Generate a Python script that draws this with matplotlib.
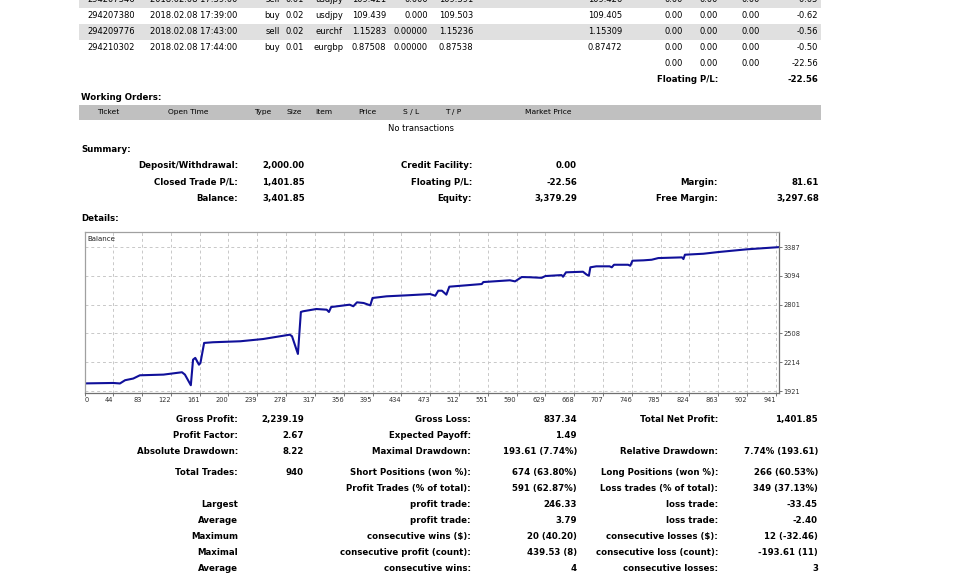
import matplotlib
matplotlib.use('Agg')
import matplotlib.pyplot as plt
from matplotlib.patches import Rectangle

plt.rcParams['font.family'] = 'DejaVu Sans'

# open positions (first row is cut by the top of the screenshot)
tickets = ['294207346', '294207380', '294209776', '294210302']
open_times = ['2018.02.08 17:39:00', '2018.02.08 17:39:00', '2018.02.08 17:43:00', '2018.02.08 17:44:00']
types = ['sell', 'buy', 'sell', 'buy']
sizes = ['0.01', '0.02', '0.02', '0.01']
items = ['usdjpy', 'usdjpy', 'eurchf', 'eurgbp']
prices = ['109.421', '109.439', '1.15283', '0.87508']
stop_loss = ['0.000', '0.000', '0.00000', '0.00000']
take_profit = ['109.391', '109.503', '1.15236', '0.87538']
market_prices = ['109.426', '109.405', '1.15309', '0.87472']
commissions = ['0.00', '0.00', '0.00', '0.00']
taxes = ['0.00', '0.00', '0.00', '0.00']
swaps = ['0.00', '0.00', '0.00', '0.00']
profits = ['-0.05', '-0.62', '-0.56', '-0.50']
totals = ['0.00', '0.00', '0.00', '-22.56']
floating_pl = '-22.56'

order_headers = ['Ticket', 'Open Time', 'Type', 'Size', 'Item', 'Price', 'S / L', 'T / P', 'Market Price']

# summary block
summary_left = [('Deposit/Withdrawal:', '2,000.00'), ('Closed Trade P/L:', '1,401.85'), ('Balance:', '3,401.85')]
summary_mid = [('Credit Facility:', '0.00'), ('Floating P/L:', '-22.56'), ('Equity:', '3,379.29')]
summary_right = [('', ''), ('Margin:', '81.61'), ('Free Margin:', '3,297.68')]

# balance curve (trade number, balance)
bal_trade = [0, 44, 53, 60, 71, 80, 112, 137, 141, 149, 152, 155, 160, 162, 167, 179, 216, 247,
             283, 286, 294, 298, 301, 319, 333, 336, 339, 364, 369, 374, 383, 392, 395, 414, 441,
             473, 480, 484, 489, 495, 499, 522, 543, 545, 581, 588, 597, 608, 624, 629, 651, 653,
             657, 680, 685, 688, 690, 698, 716, 719, 722, 741, 744, 747, 762, 773, 782, 814, 816,
             818, 843, 863, 902, 945]
bal_value = [2000, 2005, 2000, 2033, 2050, 2083, 2090, 2114, 2090, 1982, 2242, 2260, 2191, 2208, 2412,
             2419, 2429, 2452, 2496, 2480, 2300, 2727, 2734, 2757, 2750, 2727, 2777, 2801, 2785, 2825,
             2818, 2794, 2869, 2886, 2896, 2909, 2892, 2943, 2943, 2903, 2984, 2998, 3011, 3031, 3049,
             3038, 3082, 3080, 3074, 3092, 3102, 3085, 3130, 3136, 3106, 3096, 3181, 3191, 3191, 3181,
             3207, 3207, 3197, 3248, 3252, 3258, 3275, 3282, 3265, 3309, 3319, 3336, 3364, 3386]
x_ticks = [0, 44, 83, 122, 161, 200, 239, 278, 317, 356, 395, 434, 473, 512, 551, 590, 629, 668,
           707, 746, 785, 824, 863, 902, 941]
y_ticks = [1921, 2214, 2508, 2801, 3094, 3387]

# statistics block
stats = [
    ('Gross Profit:', '2,239.19', 'Gross Loss:', '837.34', 'Total Net Profit:', '1,401.85'),
    ('Profit Factor:', '2.67', 'Expected Payoff:', '1.49', '', ''),
    ('Absolute Drawdown:', '8.22', 'Maximal Drawdown:', '193.61 (7.74%)', 'Relative Drawdown:', '7.74% (193.61)'),
    ('Total Trades:', '940', 'Short Positions (won %):', '674 (63.80%)', 'Long Positions (won %):', '266 (60.53%)'),
    ('', '', 'Profit Trades (% of total):', '591 (62.87%)', 'Loss trades (% of total):', '349 (37.13%)'),
    ('Largest', '', 'profit trade:', '246.33', 'loss trade:', '-33.45'),
    ('Average', '', 'profit trade:', '3.79', 'loss trade:', '-2.40'),
    ('Maximum', '', 'consecutive wins ($):', '20 (40.20)', 'consecutive losses ($):', '12 (-32.46)'),
    ('Maximal', '', 'consecutive profit (count):', '439.53 (8)', 'consecutive loss (count):', '-193.61 (11)'),
    ('Average', '', 'consecutive wins:', '4', 'consecutive losses:', '3'),
]

fig = plt.figure(figsize=(9.69, 5.78), dpi=100)
bg = fig.add_axes([0, 0, 1, 1])
bg.set_xlim(0, 969)
bg.set_ylim(578, 0)
bg.axis('off')


def txt(x, y, s, ha='left', bold=False, size=6.0, color='black'):
    bg.text(x, y - 0.8, s, ha=ha, va='center', fontsize=size, color=color,
            fontweight='bold' if bold else 'normal')


# top table
row_y = [0, 16, 32, 48]
cols = [(87, 'left'), (150, 'left'), (280, 'right'), (304, 'right'), (329, 'center'),
        (386, 'right'), (428, 'right'), (473, 'right'), (622, 'right'), (683, 'right'),
        (718, 'right'), (760, 'right'), (818, 'right')]
for i, y in enumerate(row_y):
    if i % 2 == 0:
        bg.add_patch(Rectangle((79, y - 8), 742, 16, color='#e0e0e0', lw=0))
    vals = [tickets[i], open_times[i], types[i], sizes[i], items[i], prices[i], stop_loss[i],
            take_profit[i], market_prices[i], commissions[i], taxes[i], swaps[i], profits[i]]
    for (cx, ha), v in zip(cols, vals):
        txt(cx, y, v, ha=ha)
for (cx, ha), v in zip(cols[9:], totals):
    txt(cx, 64, v, ha=ha)
txt(718, 80.5, 'Floating P/L:', ha='right', bold=True, size=6.25)
txt(818, 80.5, floating_pl, ha='right', bold=True, size=6.25)

# working orders
txt(81, 98, 'Working Orders:', bold=True, size=6.25)
bg.add_patch(Rectangle((79, 104.7), 742, 15, color='#c0c0c0', lw=0))
head_x = [108, 188, 263, 294, 324, 367, 411, 453, 548]
for hx, h in zip(head_x, order_headers):
    txt(hx, 112.5, h, ha='center', size=5.4)
txt(421, 129, 'No transactions', ha='center')

# summary
txt(81, 150.7, 'Summary:', bold=True, size=6.25)
sum_y = [166.7, 183, 199]
for y, (a, b), (c, d), (e, f) in zip(sum_y, summary_left, summary_mid, summary_right):
    txt(238, y, a, ha='right', bold=True, size=6.25)
    txt(305, y, b, ha='right', bold=True, size=6.25)
    txt(472, y, c, ha='right', bold=True, size=6.25)
    txt(577, y, d, ha='right', bold=True, size=6.25)
    txt(718, y, e, ha='right', bold=True, size=6.25)
    txt(819, y, f, ha='right', bold=True, size=6.25)
txt(81, 219.7, 'Details:', bold=True, size=6.25)

# statistics
stat_y = [420.7, 436.7, 452.7, 473.3, 489.3, 505.7, 521.7, 537.7, 553.7, 569.7]
stat_x = [238, 304, 471, 577, 718, 818]
for y, row in zip(stat_y, stats):
    for sx, s in zip(stat_x, row):
        txt(sx, y, s, ha='right', bold=True, size=6.25)

# balance chart
x_left, x_right = 5.7, 945.4
ax = fig.add_axes([85 / 969, 1 - 393 / 578, 694 / 969, 161 / 578])
ax.plot(bal_trade, bal_value, color='#10109a', lw=1.5, solid_joinstyle='round')
ax.set_xlim(x_left, x_right)
ax.set_ylim(1903, 3540)
ax.set_xticks([max(v, x_left) for v in x_ticks])
ax.set_xticklabels([str(v) for v in x_ticks])
ax.set_yticks(y_ticks)
ax.set_yticklabels([str(v) for v in y_ticks])
ax.yaxis.tick_right()
ax.tick_params(axis='both', labelsize=4.8, colors='#606060', labelcolor='#303030',
               length=2.2, width=0.6, pad=1.0)
labels = ax.get_xticklabels()
for lab in labels:
    lab.set_ha('right')
labels[0].set_ha('left')
ax.grid(True, color='#c8c8c8', linestyle=(0, (3, 3)), lw=0.7)
for side in ['left', 'top']:
    ax.spines[side].set_color('#a0a0a0')
for side in ['right', 'bottom']:
    ax.spines[side].set_color('#707070')
for sp in ax.spines.values():
    sp.set_linewidth(0.9)
ax.text(0.004, 0.955, 'Balance', transform=ax.transAxes, fontsize=5.0, va='center', ha='left',
        color='#202020')

fig.savefig('out.png', dpi=100)
